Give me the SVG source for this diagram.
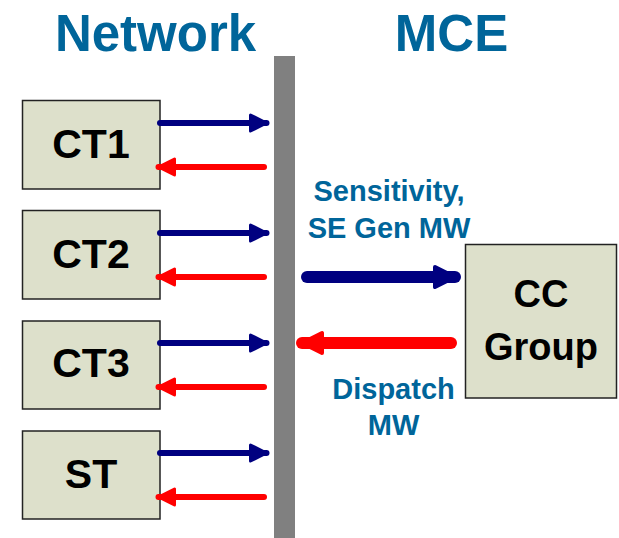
<svg xmlns="http://www.w3.org/2000/svg" width="619" height="538" viewBox="0 0 619 538">
  <style>
    .title { font-family: "Liberation Sans", Arial, sans-serif; font-weight: bold; font-size: 51px; fill: #00659a; text-anchor: middle; }
    .lbl { font-family: "Liberation Sans", Arial, sans-serif; font-weight: bold; font-size: 29px; fill: #00659a; text-anchor: middle; }
    .box { fill: #dde0cb; stroke: #222; stroke-width: 1.5; }
    .btxt { font-family: "Liberation Sans", Arial, sans-serif; font-weight: bold; font-size: 41px; fill: #000; text-anchor: middle; }
    .ctxt { font-family: "Liberation Sans", Arial, sans-serif; font-weight: bold; font-size: 38px; fill: #000; text-anchor: middle; }
    .sb { stroke: #000080; stroke-width: 6; stroke-linecap: round; fill: none; marker-end: url(#hbs); }
    .sr { stroke: #ff0000; stroke-width: 6; stroke-linecap: round; fill: none; marker-end: url(#hrs); }
    .bb { stroke: #000080; stroke-width: 12; stroke-linecap: round; fill: none; marker-end: url(#hbb); }
    .br { stroke: #ff0000; stroke-width: 12; stroke-linecap: round; fill: none; marker-end: url(#hrb); }
  </style>
  <defs>
    <marker id="hbs" markerUnits="userSpaceOnUse" viewBox="-3 -12 24 24" markerWidth="24" markerHeight="24" refX="16" refY="0" orient="auto" overflow="visible">
      <path d="M0,-8 L16,0 L0,8 Z" fill="#000080" stroke="#000080" stroke-width="3" stroke-linejoin="round"/>
    </marker>
    <marker id="hrs" markerUnits="userSpaceOnUse" viewBox="-3 -12 24 24" markerWidth="24" markerHeight="24" refX="16" refY="0" orient="auto" overflow="visible">
      <path d="M0,-8 L16,0 L0,8 Z" fill="#ff0000" stroke="#ff0000" stroke-width="3" stroke-linejoin="round"/>
    </marker>
    <marker id="hbb" markerUnits="userSpaceOnUse" viewBox="-4 -14 28 28" markerWidth="28" markerHeight="28" refX="20" refY="0" orient="auto" overflow="visible">
      <path d="M0,-10 L20,0 L0,10 Z" fill="#000080" stroke="#000080" stroke-width="4" stroke-linejoin="round"/>
    </marker>
    <marker id="hrb" markerUnits="userSpaceOnUse" viewBox="-4 -14 28 28" markerWidth="28" markerHeight="28" refX="20" refY="0" orient="auto" overflow="visible">
      <path d="M0,-10 L20,0 L0,10 Z" fill="#ff0000" stroke="#ff0000" stroke-width="4" stroke-linejoin="round"/>
    </marker>
  </defs>

  <rect width="619" height="538" fill="#fff"/>

  <text class="title" x="155.5" y="51">Network</text>
  <text class="title" x="451.5" y="51">MCE</text>

  <rect id="divider" x="274" y="56" width="21" height="482" fill="#808080"/>

  <g id="ct1">
    <rect class="box" x="22.5" y="100.5" width="137.5" height="88.5"/>
    <text class="btxt" x="91" y="158">CT1</text>
  </g>
  <g id="ct2">
    <rect class="box" x="22.5" y="210.5" width="137.5" height="88.5"/>
    <text class="btxt" x="91" y="268">CT2</text>
  </g>
  <g id="ct3">
    <rect class="box" x="22.5" y="321" width="137.5" height="88"/>
    <text class="btxt" x="91" y="377">CT3</text>
  </g>
  <g id="st">
    <rect class="box" x="22.5" y="431" width="137.5" height="88"/>
    <text class="btxt" x="91" y="488">ST</text>
  </g>
  <g id="ccgroup">
    <rect class="box" x="465.5" y="244.5" width="151" height="153.5"/>
    <text class="ctxt" x="541" y="307">CC</text>
    <text class="ctxt" x="541" y="360">Group</text>
  </g>

  <g id="connectors">
    <line class="sb" x1="160" y1="123" x2="266.5" y2="123"/>
    <line class="sr" x1="264" y1="167" x2="158.5" y2="167"/>
    <line class="sb" x1="160" y1="233" x2="266.5" y2="233"/>
    <line class="sr" x1="264" y1="277" x2="158.5" y2="277"/>
    <line class="sb" x1="160" y1="343" x2="266.5" y2="343"/>
    <line class="sr" x1="264" y1="387" x2="158.5" y2="387"/>
    <line class="sb" x1="160" y1="453" x2="266.5" y2="453"/>
    <line class="sr" x1="264" y1="497" x2="158.5" y2="497"/>
    <line class="bb" x1="307" y1="277" x2="455" y2="277"/>
    <line class="br" x1="451" y1="343" x2="302" y2="343"/>
  </g>

  <text class="lbl" x="389" y="201">Sensitivity,</text>
  <text class="lbl" x="389" y="238">SE Gen MW</text>
  <text class="lbl" x="393.5" y="399">Dispatch</text>
  <text class="lbl" x="393.5" y="435">MW</text>
</svg>
